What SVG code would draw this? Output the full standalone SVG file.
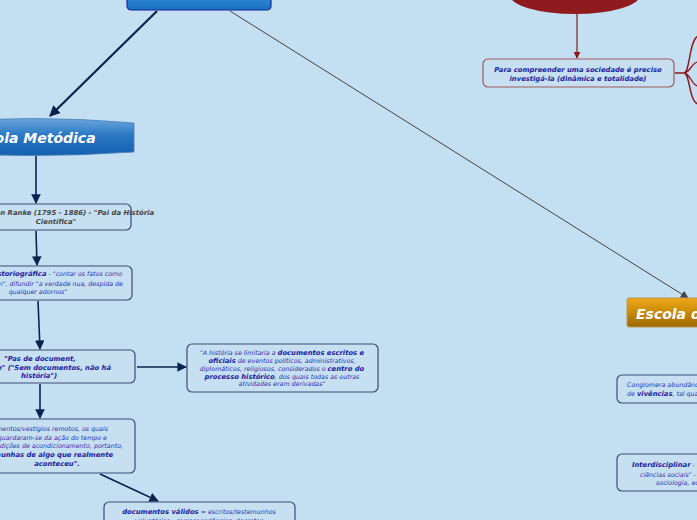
<svg xmlns="http://www.w3.org/2000/svg" width="697" height="520" viewBox="0 0 697 520">
<defs>
<linearGradient id="gTop" x1="0" y1="0" x2="0" y2="1"><stop offset="0" stop-color="#3a98e0"/><stop offset="1" stop-color="#1a70c0"/></linearGradient>
<linearGradient id="gMet" x1="0" y1="0" x2="0" y2="1"><stop offset="0" stop-color="#6aa6dc"/><stop offset="0.45" stop-color="#2a78c4"/><stop offset="1" stop-color="#145fae"/></linearGradient>
<linearGradient id="gAnn" x1="0" y1="0" x2="0" y2="1"><stop offset="0" stop-color="#f0a818"/><stop offset="0.5" stop-color="#c88a08"/><stop offset="1" stop-color="#9a6800"/></linearGradient>
<marker id="aNavy" viewBox="0 0 10 10" refX="9" refY="5" markerWidth="5" markerHeight="5" orient="auto-start-reverse" markerUnits="strokeWidth"><path d="M0,0 L10,5 L0,10 z" fill="#0c2250"/></marker>
<marker id="aNavyS" viewBox="0 0 10 10" refX="9" refY="5" markerWidth="6" markerHeight="6" orient="auto" markerUnits="strokeWidth"><path d="M0,0 L10,5 L0,10 z" fill="#0c2250"/></marker>
<marker id="aGray" viewBox="0 0 10 10" refX="9" refY="5" markerWidth="8" markerHeight="8" orient="auto" markerUnits="strokeWidth"><path d="M0,0 L10,5 L0,10 z" fill="#444"/></marker>
<marker id="aRed" viewBox="0 0 10 10" refX="9" refY="5" markerWidth="6" markerHeight="6" orient="auto" markerUnits="strokeWidth"><path d="M0,0 L10,5 L0,10 z" fill="#8b1a1a"/></marker>
</defs>
<style>
.box{fill:#c6e0f2;stroke:#3d4c72;stroke-width:1.2}
.rbox{fill:#c6e0f2;stroke:#a05a5a;stroke-width:1.2}
.t{font-family:"DejaVu Sans",Verdana,sans-serif;font-style:italic;fill:#3030b0;font-size:6.3px}
.b{font-weight:bold;font-size:6.8px;fill:#2222a0}
.g{fill:#444;font-weight:bold;font-size:6.9px}
.title{font-family:"DejaVu Sans",Verdana,sans-serif;font-style:italic;font-weight:bold;fill:#fff;font-size:14px}
.nv{stroke:#0c2250;stroke-width:1.6;fill:none}
</style>
<rect width="697" height="520" fill="#c4dff1"/>

<g id="connectors">
<line x1="157" y1="11" x2="50" y2="116" stroke="#0c2250" stroke-width="2.2" marker-end="url(#aNavy)"/>
<line x1="230" y1="11" x2="688" y2="298" stroke="#444" stroke-width="1" marker-end="url(#aGray)"/>
<line class="nv" x1="36" y1="156" x2="36" y2="203" marker-end="url(#aNavyS)"/>
<line class="nv" x1="36" y1="231" x2="37" y2="265" marker-end="url(#aNavyS)"/>
<line class="nv" x1="38" y1="301" x2="40" y2="349" marker-end="url(#aNavyS)"/>
<line class="nv" x1="137" y1="367" x2="186" y2="367" marker-end="url(#aNavyS)"/>
<line class="nv" x1="40" y1="384" x2="40" y2="418" marker-end="url(#aNavyS)"/>
<line class="nv" x1="100" y1="474" x2="158" y2="501" marker-end="url(#aNavyS)"/>
<line x1="577" y1="14" x2="577" y2="58" stroke="#8b1a1a" stroke-width="1.2" marker-end="url(#aRed)"/>
<path d="M675,73 H684 M684,73 C690,73 689,40 698,36 M684,73 C690,73 689,102 698,104 M684,73 C690,73 692,62 698,62 M684,73 C690,73 692,86 698,86" stroke="#8b1a1a" stroke-width="1.4" fill="none"/>
</g>

<g id="n-top"><rect x="127" y="-12" width="144" height="22" rx="4" fill="url(#gTop)" stroke="#1428a0" stroke-width="1.2"/></g>

<g id="n-metodica">
<path d="M-70,123 Q32,114 134,123 V152 Q32,159 -70,152 Z" fill="url(#gMet)" stroke="#4a80b8" stroke-width="0.8"/>
<text class="title" x="32" y="143" text-anchor="middle">Escola Metódica</text>
</g>

<g id="n-ranke">
<rect class="box" x="-22" y="204" width="153" height="26" rx="5"/>
<text class="t g" x="56" y="215" text-anchor="middle">Leopold von Ranke (1795 - 1886) - "Pai da História</text>
<text class="t g" x="56" y="224" text-anchor="middle">Científica"</text>
</g>

<g id="n-escola-hist">
<rect class="box" x="-60" y="266" width="192" height="34" rx="5"/>
<text class="t" x="122" y="276" text-anchor="end"><tspan class="b">Escola Historiográfica</tspan> - "contar os fatos como</text>
<text class="t" x="123" y="286" text-anchor="end">realmente aconteceram", difundir "a verdade nua, despida de</text>
<text class="t" x="38" y="294" text-anchor="middle">qualquer adornos"</text>
</g>

<g id="n-pas">
<rect class="box" x="-55" y="350" width="190" height="33" rx="5"/>
<text class="t b" x="40" y="361" text-anchor="middle">"Pas de document,</text>
<text class="t b" x="111" y="370" text-anchor="end">pas d'histoire" ("Sem documentos, não há</text>
<text class="t b" x="39" y="378" text-anchor="middle">história")</text>
</g>

<g id="n-historia">
<rect class="box" x="187" y="344" width="191" height="48" rx="5"/>
<text class="t" x="282" y="355" text-anchor="middle">"A história se limitaria a <tspan class="b">documentos escritos e</tspan></text>
<text class="t" x="282" y="363" text-anchor="middle"><tspan class="b">oficiais</tspan> de eventos políticos, administrativos,</text>
<text class="t" x="282" y="371" text-anchor="middle">diplomáticos, religiosos, considerados o <tspan class="b">centro do</tspan></text>
<text class="t" x="282" y="379" text-anchor="middle"><tspan class="b">processo histórico</tspan>, dos quais todas as outras</text>
<text class="t" x="282" y="386" text-anchor="middle">atividades eram derivadas"</text>
</g>

<g id="n-documentos">
<rect class="box" x="-25" y="419" width="160" height="54" rx="5"/>
<text class="t" x="108" y="431" text-anchor="end">"Os documentos/vestígios remotos, os quais</text>
<text class="t" x="107" y="440" text-anchor="end">resguardaram-se da ação do tempo e</text>
<text class="t" x="123" y="448" text-anchor="end">das condições de acondicionamento, portanto,</text>
<text class="t b" x="113" y="457" text-anchor="end">testemunhas de algo que realmente</text>
<text class="t b" x="57" y="466" text-anchor="middle">aconteceu".</text>
</g>

<g id="n-validos">
<rect class="box" x="104" y="502" width="191" height="30" rx="5"/>
<text class="t" x="199" y="514" text-anchor="middle"><tspan class="b">documentos válidos</tspan> = escritos/testemunhos</text>
<text class="t" x="199" y="523" text-anchor="middle">voluntários - correspondências, decretos</text>
</g>

<g id="n-red"><ellipse cx="575" cy="-6" rx="66" ry="20" fill="#8e1b1e"/></g>

<g id="n-sociedade">
<rect class="rbox" x="483" y="59" width="191" height="28" rx="5"/>
<text class="t b" x="578" y="72" text-anchor="middle">Para compreender uma sociedade é preciso</text>
<text class="t b" x="578" y="81" text-anchor="middle">investigá-la (dinâmica e totalidade)</text>
</g>

<g id="n-annales">
<rect x="627" y="298" width="100" height="29" rx="2" fill="url(#gAnn)" stroke="#b89a50" stroke-width="1"/>
<text class="title" x="636" y="319">Escola dos Annales</text>
</g>

<g id="n-conglomera">
<rect class="box" x="617" y="375" width="120" height="28" rx="5"/>
<text class="t" x="627" y="387">Conglomera abundância de fontes</text>
<text class="t" x="627" y="396">de <tspan class="b">vivências</tspan>, tal qual</text>
</g>

<g id="n-interdisciplinar">
<rect class="box" x="617" y="454" width="120" height="37" rx="5"/>
<text class="t" x="632" y="467"><tspan class="b">Interdisciplinar</tspan> - "diálogo com as</text>
<text class="t" x="640" y="477">ciências sociais" - história,</text>
<text class="t" x="656" y="485">sociologia, economia</text>
</g>
</svg>
